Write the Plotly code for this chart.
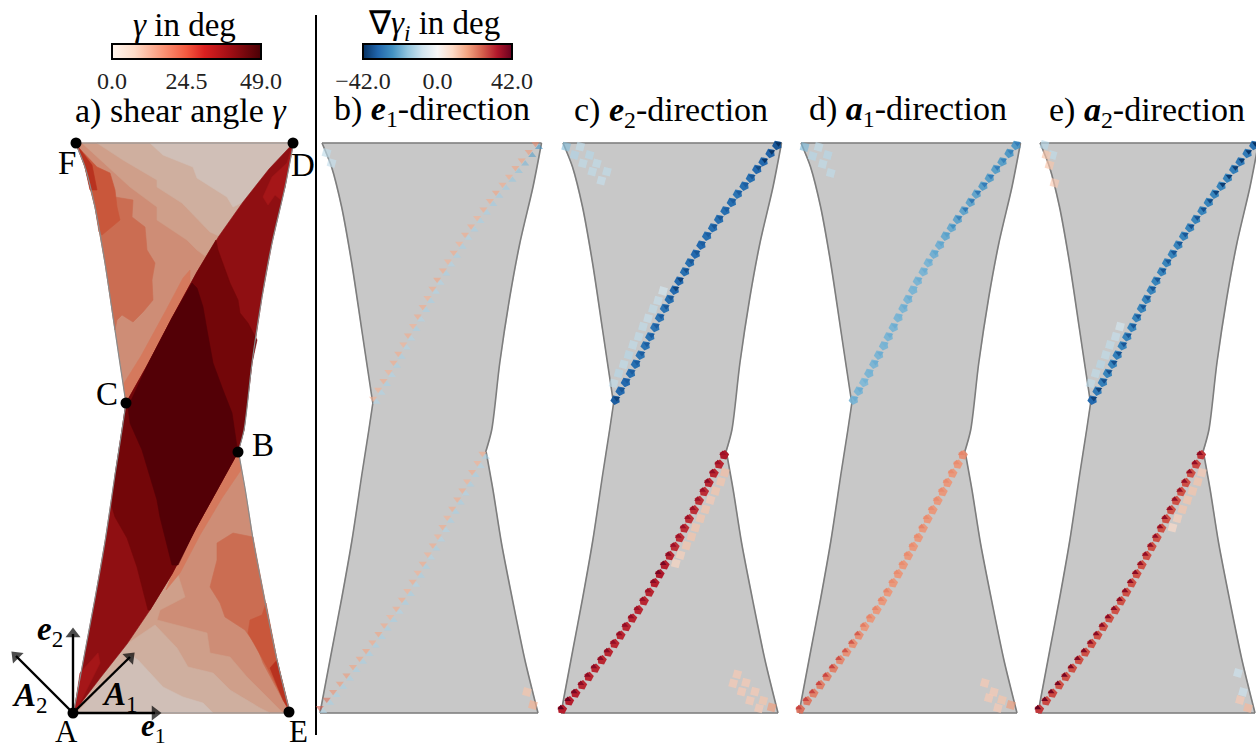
import plotly.graph_objects as go

W, H = 1256, 743
FONT = "Liberation Serif"

# ---- outline of the sheet, in mesh coordinates (shared by all panels)
edge_FC = [(75.5,143),(85,167),(95,207),(105,263),(115,330),(125,397),(126,403)]
edge_CA = [(126,403),(122,430),(115.3,473),(105.3,540),(95.3,597),(85.3,650),(73.5,713)]
edge_DB = [(293.5,143),(285,187),(272,243),(262,297),(252,363),(244,430),(238,452)]
edge_BE = [(238.5,452),(245.3,490),(253.7,543),(265.3,603),(277,660),(290,713)]
edge_top = [(75.5,143),(293.5,143)]
edge_bottom = [(73.5,713),(290,713)]
diag_CD = [(126,403),(148,364),(172,318),(197,272),(219,236),(243,202),(269,169),(293.5,143)]
diag_AB = [(73.5,713),(101,677),(127,644),(150,610),(172,574),(196,528),(216,492),(238,452)]

# ---- shear-angle regions of panel a), painted in this order
region_upper_base = edge_FC + diag_CD[1:]
region_upper_blob = [(85,167),(100,177),(115,197),(133,200),(132,217),(145,227),(147,250),(155,263),(152,280),(153,300),(143,312),(133,322),(122,315),(117,320),(115,330),(105,263),(95,207)]
region_upper_dark = [(78,147),(97,167),(110,173),(115,190),(117,207),(120,220),(102,235),(99,232),(95,207),(85,167)]
region_upper_darker = [(76,144),(92,165),(97,190),(90,190),(85,167)]
region_upper_tier3 = [(82,143),(130,187),(157,207),(157,220),(187,240),(197,250),(205,256),(219,236),(243,202),(269,169),(293.5,143)]
region_upper_tier2 = [(97,143),(123,160),(157,180),(157,187),(182,203),(210,232),(219,236),(243,202),(269,169),(293.5,143)]
region_upper_tier1 = [(150,143),(163,155),(193,167),(197,178),(227,197),(233,207),(243,202),(269,169),(293.5,143)]
region_upper_strip = [(126,403),(148,364),(172,318),(190,285),(190,270),(183,278),(165,312),(141,356),(123.5,384)]

region_lower_base = [(238.5,452)] + edge_BE[1:] + diag_AB[:-1]
region_lower_blob = [(217,543),(233,533),(253,537),(265.3,603),(277,660),(288,708),(283,700),(263,663),(257,647),(245,630),(225,617),(220,603),(210,587),(217,560)]
region_lower_dark = [(250,620),(262,615),(266,603),(277,660),(289,710),(267,667),(248,633)]
region_lower_darker = [(270,668),(277,660),(290,712),(283,700)]
region_lower_tier3 = [(178,575),(185,597),(160,610),(157,620),(207,633),(210,653),(230,657),(247,677),(270,700),(283,713),(73.5,713),(101,677),(127,644),(150,610),(172,574)]
region_lower_tier2 = [(155,625),(177,648),(188,667),(213,673),(230,690),(260,708),(270,713),(73.5,713),(101,677),(127,644)]
region_lower_tier1 = [(130,655),(138,660),(163,687),(183,697),(203,703),(213,713),(77,713)]
region_lower_strip = [(238,452),(216,492),(196,528),(172,574),(166,590),(180,573),(200,535),(222,498),(241,470)]

region_band_base = edge_CA + diag_AB[1:] + edge_DB[::-1][1:] + diag_CD[::-1][1:-1]
region_band_mid = [(216,240),(218,250),(230,283),(238,300),(240,313),(248,323),(257,340),(252,363),(244,430),(238,452),(216,492),(196,528),(172,574),(150,610),(148,610),(137,567),(127,538),(115,517),(112,507),(115.3,473),(122,430),(126,403),(148,364),(172,318),(197,272),(207.7,254)]
region_band_dark = [(128,407),(130,423),(142,450),(147,467),(157,500),(160,517),(172,565),(178,565),(196,528),(216,492),(238,452),(237,447),(232,413),(223,390),(213,363),(207,330),(203,307),(197,288),(192,283),(172,318),(148,364)]
region_band_spot_D = [(292,146),(287,163),(272,177),(263,197),(268,205),(275,195),(281,200),(285,187)]
region_band_spot_A = [(75,707),(80,673),(98,653),(100,663),(78,707)]

regions = [region_upper_base, region_upper_blob, region_upper_dark, region_upper_darker,
           region_upper_tier3, region_upper_tier2, region_upper_tier1, region_upper_strip,
           region_lower_base, region_lower_blob, region_lower_dark, region_lower_darker,
           region_lower_tier3, region_lower_tier2, region_lower_tier1, region_lower_strip,
           region_band_base, region_band_mid, region_band_dark, region_band_spot_D, region_band_spot_A]
region_colors = ["#CE8D76", "#CB6D52", "#C9573B", "#B8321F", "#CF9F8A", "#CFAF9F", "#D0BFB7", "#D5795D",
                 "#CE8D76", "#CB6D52", "#C9573B", "#B8321F", "#CF9F8A", "#CFAF9F", "#D0BFB7", "#D5795D",
                 "#8F0F12", "#730609", "#530006", "#A51618", "#A51618"]

# ---- named points
node_names = ["A", "B", "C", "D", "E", "F"]
node_x = [73, 238, 126, 293, 289, 76]
node_y = [713, 452, 403, 143, 712, 143]
gamma_ticks = [0.0, 24.5, 49.0]
grad_ticks = [-42.0, 0.0, 42.0]

# ---- element centres along the two kinks
kink_up_x = [127.7,132.7,138,143,148,152.7,157.7,162.3,167.3,172,177,181.7,186.7,191.3,197,202,207.7,213.3,219,225,231,237.3,243.7,249.7,256.3,262.7,269,275.3,282.3,289]
kink_up_y = [400,391,382.3,373.3,364,355,345.7,336.7,327.3,317.7,308.3,299.3,290,281,271.7,262.7,254,245,236,227.7,219.3,210.7,202.3,194,186,178,169.3,161.7,153.3,145.3]
kink_lo_x = [236.3,231.3,226,221,216.3,211.3,206.3,201.3,196.7,192,187,182,177,172,167,161.7,156.3,150.7,144.7,138.7,133,127,120.7,114.3,107.7,101.3,94.7,88,81.7,74.7]
kink_lo_y = [455,464.3,473.3,482.7,491.7,500.7,510,519,528.3,537.7,546.7,555.7,565,574,583,592.3,601,610,618.3,626.7,635.3,643.7,652.3,660,668.3,676.7,685,693.3,701,709.3]

# values in degrees, main element and its darker neighbour
b_up_main = [15,15,16,15,16,16,15,16,15,16,16,15,16,17,16,15,16,15,16,16,15,16,16,17,16,16,17,17,18,20]
b_up_side = [-13,-13,-14,-13,-14,-14,-13,-13,-14,-13,-14,-14,-13,-13,-14,-13,-14,-14,-13,-14,-14,-14,-15,-15,-15,-16,-17,-19,-23,-25]
b_lo_main = [16,15,16,15,16,16,16,15,16,15,16,15,16,15,16,15,16,16,15,16,17,16,17,17,17,18,18,19,23,26]
b_lo_side = [-14,-13,-14,-14,-13,-14,-14,-14,-13,-13,-14,-13,-14,-14,-13,-14,-14,-13,-14,-14,-14,-14,-14,-14,-14,-14,-14,-14,-14,-13]
c_up_main = [-35,-33,-33,-32,-32,-31,-31,-31,-31,-31,-31,-32,-33,-33,-32,-32,-33,-33,-32,-32,-32,-32,-32,-31,-32,-32,-33,-33,-34,-36]
c_up_side = [-39,-36,-35,-35,-35,-35,-35,-35,-35,-35,-36,-36,-39,-39,-37,-36,-36,-35,-35,-36,-36,-35,-35,-35,-35,-36,-38,-41,-41,-42]
c_lo_main = [34,32,32,32,31,31,31,31,31,31,31,32,33,34,33,32,32,32,32,32,32,32,32,32,32,32,32,33,33,33]
c_lo_side = [36,36,37,38,36,36,36,36,36,36,36,38,40,40,38,36,36,36,37,37,37,37,38,38,38,38,38,40,41,42]
d_up_main = [-20,-20,-19,-20,-20,-20,-20,-20,-20,-20,-20,-20,-20,-20,-20,-20,-21,-21,-22,-22,-23,-23,-23,-23,-24,-24,-24,-24,-25,-25]
d_up_side = [-21,-21,-20,-20,-21,-21,-20,-21,-21,-20,-21,-21,-20,-21,-21,-21,-22,-22,-23,-26,-29,-31,-31,-31,-30,-30,-30,-29,-29,-30]
d_lo_main = [20,19,19,19,19,19,19,19,19,19,19,19,19,19,19,19,19,19,19,19,20,20,20,21,22,22,22,22,23,24]
d_lo_side = [21,20,20,20,20,20,20,20,21,20,20,20,20,20,20,21,21,21,21,22,26,27,27,28,29,29,29,29,29,29]
e_up_main = [-33,-30,-29,-28,-28,-29,-28,-28,-28,-28,-28,-28,-28,-28,-28,-28,-28,-28,-28,-28,-28,-28,-28,-28,-28,-28,-29,-30,-30,-32]
e_up_side = [-39,-39,-37,-37,-37,-37,-36,-36,-36,-36,-36,-36,-36,-36,-36,-36,-36,-36,-36,-37,-37,-37,-38,-39,-40,-40,-40,-40,-41,-42]
e_lo_main = [30,28,27,27,27,27,27,27,27,27,27,27,27,27,27,27,27,27,27,27,27,27,27,27,27,27,27,28,28,30]
e_lo_side = [38,37,37,37,37,37,37,37,37,37,37,37,37,38,38,38,38,38,38,38,38,38,39,39,39,40,40,40,41,42]

# light neighbouring cells beside the kinks
band_up_x = [126,131,136,141,145.3,151,155.3,160.3,165.3,170.3,175.3]
band_up_y = [383.3,373.3,364.3,355,345,336.7,326.7,318.3,309,300.7,291]
band_lo_x = [237,233,227.7,222.7,217.7,212.7,207.7,203.7,198.7,192.7,188]
band_lo_y = [472.7,481.7,491,500,509.3,518.3,527.7,536.7,545.7,555,563.3]
c_band_up = [-11,-12,-11,-12,-11,-11,-11,-10,-11,-10,-8]
c_band_lo = [13,12,12,11,12,12,12,12,12,10,9]
e_band_up = [-11,-11,-12,-11,-11,-10,-8]
e_band_lo = [11,12,12,12,12,10,8]

# corner cells: x, y, value
c_corner_x = [78.7,92.7,87,102,95.3,109.3,104.7,119.3,113.7,249.3,245.3,258,253.7,267,262,275.3,271,283.7]
c_corner_y = [146.7,146.7,155,155,163.3,163.3,171.7,171.7,180.7,674.3,683.3,682.7,691.7,691.7,700.7,700.7,708.3,707.3]
c_corner_v = [-18,-11,-13,-12,-11,-11,-11,-11,-10,11,11,11,11,11,11,12,11,18]
d_corner_x = [79,93,87,102,97,105,258,262,267,275,271,284]
d_corner_y = [147,147,156,155,164,173,683,698,692,700,708,705]
d_corner_v = [-19,-11,-12,-12,-11,-11,11,11,11,12,11,18]
e_corner_x = [80,88,82,85,90,273,278,275,283]
e_corner_y = [145,155,155,165,183,673,692,700,708]
e_corner_v = [-12,-11,12,12,11,-9,-9,11,14]
b_corner_x = [80,85,279,285]
b_corner_y = [153,163,692,705]
b_corner_v = [-11,-10,12,15]

# left/right pixel of the bottom edge of each panel
panel_names = ["b", "c", "d", "e"]
panel_left = [320, 561, 799, 1038]
panel_right = [538, 778, 1017, 1255]

panels = {
    "b": dict(up=(b_up_main, b_up_side), lo=(b_lo_main, b_lo_side), bu=[], bl=[], corner=(b_corner_x, b_corner_y, b_corner_v), opac=0.6),
    "c": dict(up=(c_up_main, c_up_side), lo=(c_lo_main, c_lo_side), bu=c_band_up, bl=c_band_lo, corner=(c_corner_x, c_corner_y, c_corner_v), opac=1),
    "d": dict(up=(d_up_main, d_up_side), lo=(d_lo_main, d_lo_side), bu=[], bl=[], corner=(d_corner_x, d_corner_y, d_corner_v), opac=0.9),
    "e": dict(up=(e_up_main, e_up_side), lo=(e_lo_main, e_lo_side), bu=e_band_up, bl=e_band_lo, corner=(e_corner_x, e_corner_y, e_corner_v), opac=1),
}
LIGHT_OPACITY = 0.65

RDBU = [[0,"rgb(5,48,97)"],[.1,"rgb(33,102,172)"],[.2,"rgb(67,147,195)"],[.3,"rgb(146,197,222)"],
        [.4,"rgb(209,229,240)"],[.5,"rgb(247,247,247)"],[.6,"rgb(253,219,199)"],[.7,"rgb(244,165,130)"],
        [.8,"rgb(214,96,77)"],[.9,"rgb(178,24,43)"],[1,"rgb(103,0,31)"]]
REDS = [[0,"#FFF5EE"],[.15,"#FDDCC8"],[.35,"#FB9274"],[.5,"#F4593F"],[.62,"#DB2020"],[.78,"#A50F15"],[1,"#4A0005"]]

fig = go.Figure()


def poly(pts, color, xaxis="x"):
    xs, ys = zip(*pts)
    fig.add_trace(go.Scatter(x=list(xs) + [xs[0]], y=list(ys) + [ys[0]], mode="lines", fill="toself",
                             fillcolor=color, line=dict(color=color, width=0.6),
                             xaxis=xaxis, yaxis="y", hoverinfo="skip", showlegend=False))


def stroke_outline(xaxis, color, width):
    for pts in (edge_FC, edge_CA, edge_DB, edge_BE, edge_top, edge_bottom):
        fig.add_trace(go.Scatter(x=[p[0] for p in pts], y=[p[1] for p in pts], mode="lines", xaxis=xaxis, yaxis="y",
                                 line=dict(color=color, width=width, shape="spline", smoothing=0.8),
                                 hoverinfo="skip", showlegend=False))


outline = edge_FC + edge_CA[1:] + [(290, 713)] + edge_BE[::-1][1:] + edge_DB[::-1][1:]

# panel a
for pts, col in zip(regions, region_colors):
    poly(pts, col)
stroke_outline("x", "#8A8A8A", 1.2)


def markers(x, y, v, xaxis, symbol, size, angle=0, opacity=1.0):
    fig.add_trace(go.Scatter(x=x, y=y, mode="markers", xaxis=xaxis, yaxis="y", hoverinfo="skip", showlegend=False,
                             marker=dict(symbol=symbol, size=size, angle=angle, opacity=opacity, color=v,
                                         coloraxis="coloraxis2", line=dict(width=0))))


# panels b-e
for i, name in enumerate(panel_names):
    ax = f"x{i + 2}"
    poly(outline, "#C8C8C8", xaxis=ax)
    stroke_outline(ax, "#7D7D7D", 1.6)
    p = panels[name]
    op = p["opac"]
    cx, cy, cv = p["corner"]
    markers(cx, cy, cv, ax, "square", 8, angle=15, opacity=LIGHT_OPACITY)
    if p["bu"]:
        n = len(p["bu"])
        markers(band_up_x[:n], band_up_y[:n], p["bu"], ax, "square", 8, angle=15, opacity=LIGHT_OPACITY)
    if p["bl"]:
        n = len(p["bl"])
        markers(band_lo_x[:n], band_lo_y[:n], p["bl"], ax, "square", 8, angle=15, opacity=LIGHT_OPACITY)
    if name == "b":
        markers([v - 1.5 for v in kink_up_x], [v - 1.5 for v in kink_up_y], p["up"][0], ax, "triangle-down", 7, opacity=op)
        markers([v + 2 for v in kink_up_x], [v + 2 for v in kink_up_y], p["up"][1], ax, "triangle-up", 7, opacity=op)
        markers([v - 1.5 for v in kink_lo_x], [v - 1.5 for v in kink_lo_y], p["lo"][0], ax, "triangle-down", 7, opacity=op)
        markers([v + 2 for v in kink_lo_x], [v + 2 for v in kink_lo_y], p["lo"][1], ax, "triangle-up", 7, opacity=op)
    else:
        markers(kink_up_x, kink_up_y, p["up"][0], ax, "pentagon", 10, angle=190, opacity=op)
        markers([v + 1.5 for v in kink_up_x], [v - 1.5 for v in kink_up_y], p["up"][1], ax, "triangle-down", 6, opacity=op)
        markers(kink_lo_x, kink_lo_y, p["lo"][0], ax, "pentagon", 10, angle=10, opacity=op)
        markers([v - 1.5 for v in kink_lo_x], [v - 1.5 for v in kink_lo_y], p["lo"][1], ax, "triangle-up", 6, opacity=op)

# invisible carrier of the gamma colour bar, placed on the nodes
fig.add_trace(go.Scatter(x=node_x, y=node_y, mode="markers", hoverinfo="skip", showlegend=False,
                         marker=dict(size=1, opacity=0, color=[0, 12, 24.5, 36, 44, 49], coloraxis="coloraxis")))

# basis vectors, drawn from A (arrowhead centre at the end of each list)
vector_end_x = [155, 73, 130, 16]
vector_end_y = [713, 634, 657, 656]
for tx, ty in zip(vector_end_x, vector_end_y):
    fig.add_trace(go.Scatter(x=[node_x[0], tx], y=[node_y[0], ty], mode="lines+markers", hoverinfo="skip", showlegend=False,
                             line=dict(color="black", width=2.4),
                             marker=dict(symbol="triangle-up", size=[0, 13], angleref="previous", color="black",
                                         line=dict(width=0))))

# nodes
fig.add_trace(go.Scatter(x=node_x, y=node_y, mode="markers", hoverinfo="skip", showlegend=False,
                         marker=dict(size=11, color="black")))
# separator
fig.add_trace(go.Scatter(x=[316, 316], y=[15, 735], mode="lines", hoverinfo="skip", showlegend=False,
                         line=dict(color="black", width=2)))

# ---- axes: panel a maps mesh units 1:1 onto pixels, the others by their own range
layout_axes = {
    "xaxis": dict(range=[0, W], domain=[0, 1], visible=False, fixedrange=True),
    "yaxis": dict(range=[H, 0], domain=[0, 1], visible=False, fixedrange=True),
}
for i, (l, r) in enumerate(zip(panel_left, panel_right)):
    s = (r - l) / (290 - 73.5)
    layout_axes[f"xaxis{i + 2}"] = dict(range=[73.5 - l / s, 73.5 + (W - l) / s], domain=[0, 1], visible=False,
                                        overlaying="x", fixedrange=True)


def txt(x, y, s, size=33, anchor="center"):
    return dict(x=x / W, y=1 - y / H, xref="paper", yref="paper", text=s, showarrow=False, xanchor=anchor,
                yanchor="middle", font=dict(family=FONT, size=size, color="black"))


E1 = "<b><i>e</i></b>"
A1 = "<b><i>a</i></b>"
annotations = [
    txt(184, 25, "<i>γ</i> in deg"),
    txt(434, 25, "∇<i>γ<sub>i</sub></i> in deg"),
    txt(181, 111, "a) shear angle <i>γ</i>", 34),
    txt(432, 111, f"b) {E1}<sub>1</sub>-direction", 34),
    txt(671, 112, f"c) {E1}<sub>2</sub>-direction", 34),
    txt(908, 111, f"d) {A1}<sub>1</sub>-direction", 34),
    txt(1147, 112, f"e) {A1}<sub>2</sub>-direction", 34),
    txt(67, 163, "F"), txt(303, 165, "D"), txt(107, 394, "C"), txt(263, 445, "B"),
    txt(66, 731, "A", 31), txt(298, 731, "E", 31),
    txt(50, 631, "<b><i>e</i></b><sub>2</sub>"),
    txt(153, 728, "<b><i>e</i></b><sub>1</sub>", 31),
    txt(30, 697, "<b><i>A</i></b><sub>2</sub>"),
    txt(120, 696, "<b><i>A</i></b><sub>1</sub>"),
]


def cbar(x_left, vals, labels):
    return dict(orientation="h", x=x_left / W, xanchor="left", y=1 - 87 / H, yanchor="bottom",
                len=149, lenmode="pixels", thickness=15, thicknessmode="pixels", xpad=0, ypad=0,
                outlinecolor="black", outlinewidth=2, borderwidth=0, ticks="", tickvals=vals, ticktext=labels,
                tickfont=dict(family=FONT, size=24, color="#222"), ticklabelposition="outside bottom")


fig.update_layout(
    width=W, height=H, margin=dict(l=0, r=0, t=0, b=0, pad=0, autoexpand=False),
    paper_bgcolor="white", plot_bgcolor="white", showlegend=False, annotations=annotations,
    coloraxis=dict(cmin=0, cmax=49, colorscale=REDS,
                   colorbar=cbar(112, gamma_ticks, ["0.0", "24.5", "49.0"])),
    coloraxis2=dict(cmin=-42, cmax=42, colorscale=RDBU,
                    colorbar=cbar(363, grad_ticks, ["−42.0", "0.0", "42.0"])),
    **layout_axes,
)
fig.write_html("out.html", config={"displayModeBar": False}, post_script="document.body.style.margin='0';")
